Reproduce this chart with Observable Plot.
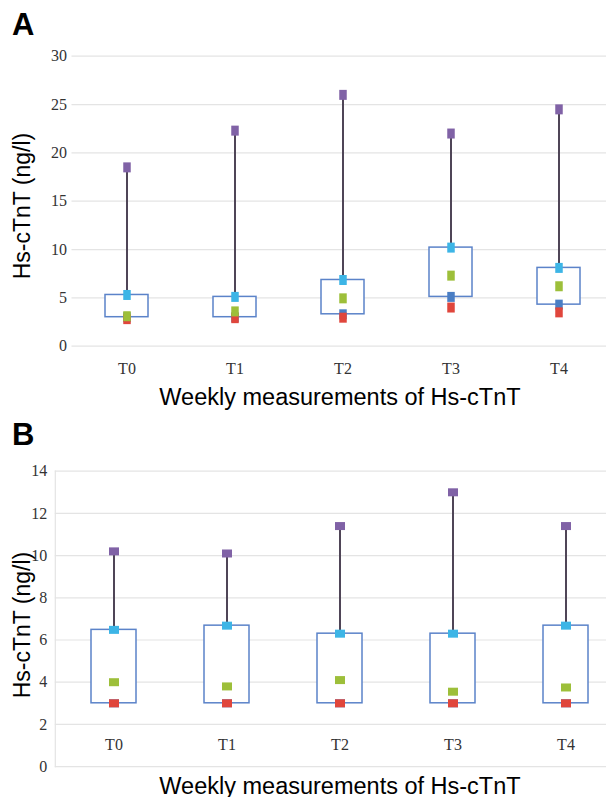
<!DOCTYPE html>
<html><head><meta charset="utf-8">
<script src="https://cdn.jsdelivr.net/npm/d3@7"></script>
<script src="https://cdn.jsdelivr.net/npm/@observablehq/plot@0.6"></script>
<style>
body{margin:0;background:#fff;}
#wrap{position:relative;width:606px;height:797px;overflow:hidden;background:#fff;}
#wrap > svg{position:absolute;left:0;}
svg.cplot text{font-family:'Liberation Serif','Times New Roman',serif !important;font-size:16px !important;fill:#333;}
</style></head><body><div id="wrap"></div>
<script>
// ---- data ----
const categories = ["T0", "T1", "T2", "T3", "T4"];

// Panel A
const minA = [2.8, 2.9, 2.95, 4.0, 3.5];
const q1A  = [3.0, 3.0, 3.3, 5.1, 4.3];
const medA = [3.1, 3.6, 4.95, 7.3, 6.2];
const q3A  = [5.3, 5.1, 6.85, 10.2, 8.1];
const maxA = [18.5, 22.3, 26.0, 22.0, 24.5];
const ticksA = [0, 5, 10, 15, 20, 25, 30];

// Panel B
const minB = [3.0, 3.0, 3.0, 3.0, 3.0];
const q1B  = [3.0, 3.0, 3.0, 3.0, 3.0];
const medB = [4.0, 3.8, 4.1, 3.55, 3.75];
const q3B  = [6.48, 6.68, 6.3, 6.3, 6.68];
const maxB = [10.2, 10.1, 11.4, 13.0, 11.4];
const ticksB = [0, 2, 4, 6, 8, 10, 12, 14];

const panelLabels = ["A", "B"];
const yTitle = "Hs-cTnT (ng/l)";
const xTitle = "Weekly measurements of Hs-cTnT";

// ---- styles ----
const C = {min:"#e0463c", q1:"#4a7ec4", med:"#9dbf3a", q3:"#3db5e6", max:"#8062a6",
           box:"#5b83c9", whisker:"#4f4557", grid:"#e4e4e4"};
const serif = "'Liberation Serif','Times New Roman',serif";
const sans = "'Liberation Sans',Arial,sans-serif";

function rectSym(w, h) {
  return {draw(ctx) {
    ctx.moveTo(-w/2, -h/2); ctx.lineTo(w/2, -h/2); ctx.lineTo(w/2, h/2); ctx.lineTo(-w/2, h/2); ctx.closePath();
  }};
}

function panel(o) {
  const rows = categories.map((c, i) => ({cat:c, min:o.min[i], q1:o.q1[i], med:o.med[i], q3:o.q3[i], max:o.max[i]}));
  const sym = rectSym(o.symW, o.symH);
  const marks = [
    Plot.ruleY(o.ticks, {stroke: C.grid, strokeWidth: 1.2}),
  ];
  if (o.frameLeft) marks.push(Plot.frame({anchor: "left", stroke: C.grid, strokeWidth: 1.2}));
  marks.push(
    Plot.barY(rows, {x: "cat", y1: "q1", y2: "q3", fill: "white", stroke: C.box, strokeWidth: 1.5}),
    Plot.ruleX(rows, {x: "cat", y1: "q3", y2: "max", stroke: C.whisker, strokeWidth: 2}),
    Plot.dot(rows, {x: "cat", y: "q1", symbol: sym, fill: C.q1, stroke: null}),
    Plot.dot(rows, {x: "cat", y: "min", symbol: sym, fill: C.min, stroke: null}),
    Plot.dot(rows, {x: "cat", y: "med", symbol: sym, fill: C.med, stroke: null}),
    Plot.dot(rows, {x: "cat", y: "q3", symbol: sym, fill: C.q3, stroke: null}),
    Plot.dot(rows, {x: "cat", y: "max", symbol: sym, fill: C.max, stroke: null})
  );
  if (o.axisAt != null) {
    marks.push(Plot.text(categories, {x: d => d, y: () => o.axisAt, dy: o.labelDy, lineAnchor: "top",
      fontSize: 16, fontFamily: serif, fill: "#333"}));
  }
  const svg = Plot.plot({
    width: 606, height: o.height, className: "cplot",
    marginLeft: o.xRange[0], marginRight: 0, marginTop: o.mTop, marginBottom: o.mBottom,
    style: {fontFamily: serif, fontSize: "16px", color: "#333", background: "transparent", overflow: "visible"},
    x: o.axisAt != null ? {type: "band", domain: categories, range: o.xRange, paddingInner: 0.6, paddingOuter: 0.3, axis: null}
                        : {type: "band", domain: categories, range: o.xRange, paddingInner: 0.6, paddingOuter: 0.3,
                           tickSize: 0, tickPadding: o.xPad, label: null},
    y: {domain: [0, o.ticks[o.ticks.length - 1]], ticks: o.ticks, tickSize: 0, tickPadding: o.yPad, label: null},
    marks
  });
  svg.classList.add("cplot");
  svg.style.top = o.top + "px";
  return svg;
}

const wrap = document.getElementById("wrap");
wrap.appendChild(panel({min:minA, q1:q1A, med:medA, q3:q3A, max:maxA, ticks:ticksA,
  top:0, height:420, mTop:55.7, mBottom:420-345.7, xRange:[71.5, 613.5], symW:7.5, symH:10,
  xPad:16, yPad:5}));
wrap.appendChild(panel({min:minB, q1:q1B, med:medB, q3:q3B, max:maxB, ticks:ticksB,
  top:410, height:387, mTop:60.7, mBottom:387-356.1, xRange:[54.8, 623.5], symW:10, symH:8,
  axisAt:2, labelDy:14, yPad:8, frameLeft:true}));

// overlay titles
const ns = "http://www.w3.org/2000/svg";
const ov = document.createElementNS(ns, "svg");
ov.setAttribute("width", 606); ov.setAttribute("height", 797);
ov.style.top = "0px";
function addText(str, attrs) {
  const t = document.createElementNS(ns, "text");
  for (const k in attrs) t.setAttribute(k, attrs[k]);
  t.textContent = str; ov.appendChild(t);
}
addText(panelLabels[0], {x:12, y:35, "font-family":sans, "font-size":31, "font-weight":"bold", fill:"#000"});
addText(panelLabels[1], {x:12, y:445, "font-family":sans, "font-size":31, "font-weight":"bold", fill:"#000"});
addText(yTitle, {transform:"translate(30,206) rotate(-90)", "text-anchor":"middle", "font-family":sans, "font-size":23, fill:"#000"});
addText(yTitle, {transform:"translate(30,625) rotate(-90)", "text-anchor":"middle", "font-family":sans, "font-size":23, fill:"#000"});
addText(xTitle, {x:340, y:405, "text-anchor":"middle", "font-family":sans, "font-size":23.5, fill:"#000"});
addText(xTitle, {x:340, y:793.5, "text-anchor":"middle", "font-family":sans, "font-size":23.5, fill:"#000"});
wrap.appendChild(ov);
</script></body></html>
